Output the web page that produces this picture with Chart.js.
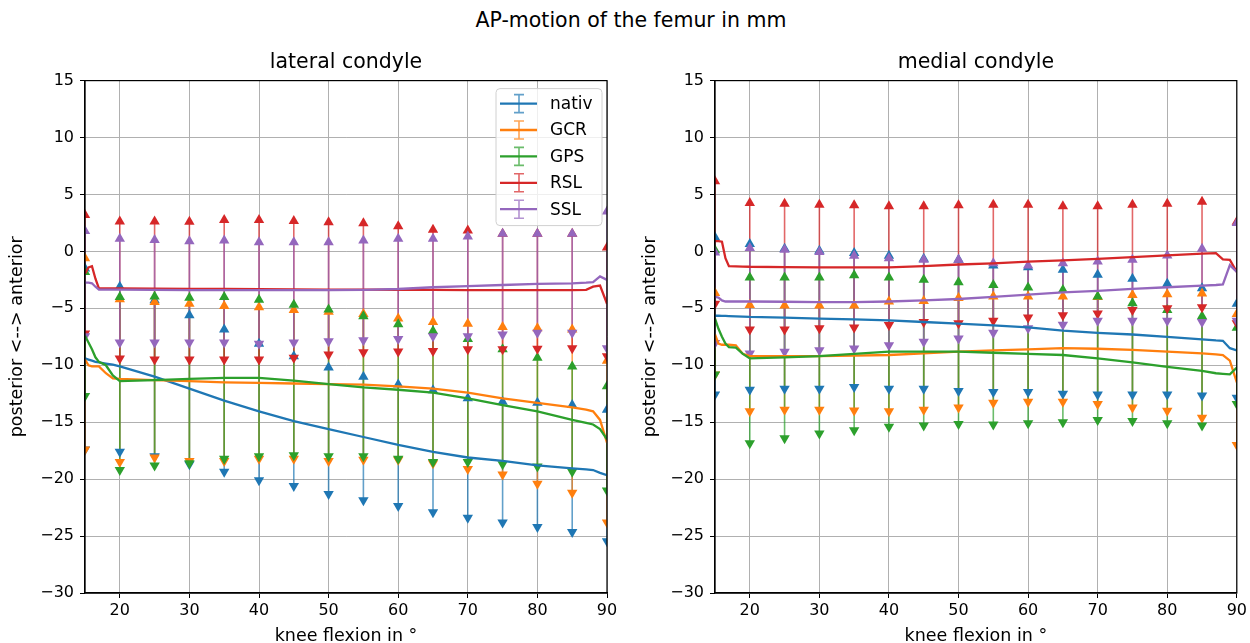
<!DOCTYPE html>
<html>
<head>
<meta charset="utf-8">
<script src="https://cdn.jsdelivr.net/npm/chart.js@4.4.0/dist/chart.umd.min.js"></script>
<style>
html, body { margin: 0; padding: 0; background: #fff; overflow: hidden; }
#wrap { position: relative; width: 1250px; height: 643px; overflow: hidden; }
#sup { position: absolute; left: 0; top: 8px; width: 1262px; text-align: center; font: 20.5px "DejaVu Sans"; color: #000; }
canvas { position: absolute; top: 0; }
</style>
</head>
<body>
<div id="wrap">
<div id="sup">AP-motion of the femur in mm</div>
<canvas id="lat" width="625" height="660" style="left:0px"></canvas>
<canvas id="med" width="620" height="660" style="left:630px"></canvas>
</div>
<script>
// knee flexion angles where the error bars sit
const flexion = [15, 20, 25, 30, 35, 40, 45, 50, 55, 60, 65, 70, 75, 80, 85, 90];
// x positions of the mean curves
const knots = [15, 15.5, 16, 16.5, 17, 18, 19, 20, 25, 30, 35, 40, 45, 50, 55, 60, 65, 70, 75, 80, 85, 87, 88, 89, 90];
const xTickValues = [20, 30, 40, 50, 60, 70, 80, 90];
const yTickValues = [-30, -25, -20, -15, -10, -5, 0, 5, 10, 15];
const seriesNames = ['nativ', 'GCR', 'GPS', 'RSL', 'SSL'];
const seriesColors = ['#1f77b4', '#ff7f0e', '#2ca02c', '#d62728', '#9467bd'];

// lateral condyle - mean curves
const latNativMean = [-9.4, -9.5, -9.6, -9.7, -9.75, -9.85, -9.95, -10.1, -11.0, -12.05, -13.1, -14.05, -14.9, -15.6, -16.3, -17.0, -17.6, -18.1, -18.4, -18.8, -19.05, -19.15, -19.2, -19.45, -19.65];
const latGcrMean = [-9.5, -10.0, -10.1, -10.1, -10.1, -10.7, -11.15, -11.2, -11.3, -11.4, -11.5, -11.55, -11.6, -11.65, -11.7, -11.85, -12.05, -12.4, -12.9, -13.3, -13.7, -13.9, -14.05, -14.8, -16.8];
const latGpsMean = [-7.4, -8.0, -8.6, -9.3, -9.7, -10.0, -10.9, -11.4, -11.3, -11.2, -11.1, -11.1, -11.35, -11.65, -11.95, -12.15, -12.4, -12.9, -13.5, -14.05, -14.8, -15.05, -15.2, -15.6, -16.5];
const latRslMean = [-1.95, -1.4, -1.3, -2.4, -3.25, -3.25, -3.25, -3.25, -3.27, -3.3, -3.3, -3.32, -3.33, -3.35, -3.35, -3.37, -3.38, -3.4, -3.4, -3.4, -3.4, -3.38, -3.1, -3.0, -4.6];
const latSslMean = [-2.75, -2.75, -2.8, -3.1, -3.35, -3.35, -3.35, -3.35, -3.38, -3.4, -3.4, -3.4, -3.4, -3.4, -3.38, -3.3, -3.15, -3.05, -2.95, -2.85, -2.8, -2.75, -2.7, -2.2, -2.5];

// lateral condyle - error bar ends
const latNativHi = [-1.5, -3.1, -4.3, -5.6, -6.85, -8.1, -9.2, -10.2, -11.0, -11.7, -12.2, -12.9, -13.2, -13.3, -13.5, -13.9];
const latNativLo = [-17.4, -17.6, -18.0, -18.7, -19.35, -20.1, -20.6, -21.3, -21.85, -22.35, -22.9, -23.4, -23.8, -24.2, -24.65, -25.45];
const latGcrHi = [-0.6, -4.2, -4.45, -4.6, -4.8, -4.9, -5.15, -5.3, -5.5, -5.9, -6.2, -6.35, -6.65, -6.76, -6.85, -9.6];
const latGcrLo = [-17.4, -18.5, -18.1, -18.4, -18.4, -18.2, -18.2, -18.4, -18.3, -18.3, -18.6, -19.1, -19.6, -20.4, -21.2, -23.8];
const latGpsHi = [-1.8, -4.0, -3.95, -4.07, -4.0, -4.24, -4.68, -5.1, -5.7, -6.4, -7.0, -7.7, -8.6, -9.35, -10.1, -11.85];
const latGpsLo = [-12.7, -19.2, -18.8, -18.6, -18.2, -18.0, -17.9, -18.0, -18.0, -18.2, -18.5, -18.5, -18.7, -18.9, -19.35, -21.0];
const latRslHi = [3.2, 2.63, 2.63, 2.6, 2.75, 2.75, 2.66, 2.57, 2.48, 2.2, 1.9, 1.84, 1.55, 1.55, 1.55, 0.35];
const latRslLo = [-7.2, -9.4, -9.5, -9.5, -9.5, -9.5, -9.35, -9.06, -8.85, -8.8, -8.75, -8.6, -8.6, -8.55, -8.5, -9.2];
const latSslHi = [1.8, 1.1, 1.0, 0.9, 0.95, 0.8, 0.8, 0.8, 0.95, 1.1, 1.1, 1.3, 1.55, 1.55, 1.55, 3.5];
const latSslLo = [-7.45, -8.0, -8.0, -8.0, -8.0, -8.1, -8.0, -7.9, -7.8, -7.7, -7.45, -7.45, -7.3, -7.15, -7.15, -8.5];

// medial condyle - mean curves
const medNativMean = [-5.65, -5.65, -5.66, -5.67, -5.68, -5.7, -5.72, -5.75, -5.82, -5.9, -5.97, -6.05, -6.2, -6.35, -6.5, -6.68, -6.95, -7.15, -7.3, -7.5, -7.72, -7.82, -7.85, -8.5, -8.7];
const medGcrMean = [-7.3, -8.1, -8.2, -8.2, -8.2, -8.25, -9.0, -9.2, -9.2, -9.2, -9.15, -9.1, -8.95, -8.8, -8.7, -8.6, -8.5, -8.55, -8.65, -8.8, -8.95, -9.05, -9.1, -9.6, -11.5];
const medGpsMean = [-5.9, -6.8, -7.5, -8.1, -8.4, -8.45, -9.0, -9.4, -9.3, -9.2, -9.0, -8.8, -8.8, -8.8, -8.9, -9.0, -9.1, -9.4, -9.75, -10.15, -10.5, -10.7, -10.75, -10.8, -10.2];
const medRslMean = [0.9, 0.9, 0.85, -0.6, -1.3, -1.32, -1.33, -1.35, -1.38, -1.4, -1.41, -1.41, -1.3, -1.15, -1.05, -0.9, -0.78, -0.65, -0.5, -0.35, -0.2, -0.15, -0.7, -0.75, -1.8];
const medSslMean = [-4.0, -4.05, -4.3, -4.4, -4.4, -4.4, -4.4, -4.4, -4.42, -4.45, -4.45, -4.4, -4.3, -4.18, -4.0, -3.8, -3.6, -3.47, -3.3, -3.15, -3.0, -2.95, -2.9, -1.2, -1.8];

// medial condyle - error bar ends
const medNativHi = [1.25, 0.65, 0.24, 0.06, -0.15, -0.38, -0.65, -0.74, -1.24, -1.4, -1.62, -2.06, -2.4, -2.85, -3.24, -4.6];
const medNativLo = [-12.56, -12.15, -12.06, -12.06, -11.9, -12.06, -12.06, -12.26, -12.35, -12.35, -12.5, -12.56, -12.56, -12.56, -12.65, -12.85];
const medGcrHi = [-3.65, -4.7, -4.76, -4.76, -4.76, -4.4, -4.35, -4.1, -3.97, -3.97, -3.97, -4.0, -3.82, -3.76, -3.7, -5.5];
const medGcrLo = [-10.8, -14.03, -13.9, -13.9, -13.97, -14.03, -13.9, -13.7, -13.3, -13.2, -13.2, -13.4, -13.7, -14.0, -14.6, -17.0];
const medGpsHi = [0.1, -2.3, -2.3, -2.3, -2.1, -2.3, -2.5, -2.7, -2.94, -3.18, -3.38, -3.97, -4.56, -5.15, -5.7, -6.7];
const medGpsLo = [-10.8, -16.85, -16.4, -16.0, -15.7, -15.4, -15.3, -15.15, -15.2, -15.1, -15.0, -14.8, -14.9, -15.1, -15.3, -13.4];
const medRslHi = [6.15, 4.26, 4.18, 4.1, 4.06, 3.97, 3.97, 4.06, 4.1, 4.1, 3.97, 3.97, 4.1, 4.18, 4.35, 2.6];
const medRslLo = [-4.6, -6.85, -6.85, -6.76, -6.68, -6.47, -6.2, -6.3, -6.1, -5.8, -5.6, -5.45, -5.15, -5.0, -4.9, -6.3];
const medSslHi = [-0.1, 0.3, 0.15, -0.06, -0.38, -0.6, -0.74, -0.74, -1.03, -1.24, -1.03, -0.88, -0.74, -0.35, 0.24, 2.5];
const medSslLo = [-8.05, -8.97, -8.82, -8.68, -8.53, -8.24, -7.94, -7.65, -7.15, -6.75, -6.45, -6.1, -6.1, -6.1, -6.2, -6.1];

Chart.defaults.font.family = '"DejaVu Sans", sans-serif';
Chart.defaults.color = '#000';

function fade(hex, a) {
  const n = parseInt(hex.slice(1), 16);
  return 'rgba(' + (n >> 16) + ',' + ((n >> 8) & 255) + ',' + (n & 255) + ',' + a + ')';
}

function buildDatasets(means, highs, lows) {
  const sets = [];
  seriesNames.forEach((name, i) => {
    const c = seriesColors[i];
    const bars = [];
    flexion.forEach((x, j) => {
      bars.push({x: x, y: highs[i][j]}, {x: x, y: lows[i][j]}, {x: x, y: null});
    });
    // vertical error bar
    sets.push({data: bars, borderColor: fade(c, 0.7), borderWidth: 1.6, pointRadius: 0, spanGaps: false, order: 300 - i});
    // caps: up / down triangles
    sets.push({data: flexion.map((x, j) => ({x: x, y: highs[i][j]})), showLine: false, pointStyle: 'triangle',
      pointRadius: 6, pointBackgroundColor: c, pointBorderColor: c, pointBorderWidth: 0, order: 200 - i});
    sets.push({data: flexion.map((x, j) => ({x: x, y: lows[i][j]})), showLine: false, pointStyle: 'triangle',
      pointRotation: 180, pointRadius: 6, pointBackgroundColor: c, pointBorderColor: c, pointBorderWidth: 0, order: 200 - i});
    // mean curve
    sets.push({label: name, data: knots.map((x, j) => ({x: x, y: means[i][j]})), borderColor: c, borderWidth: 2.3,
      pointRadius: 0, tension: 0, order: 100 - i});
  });
  return sets;
}

const framePlugin = {
  id: 'frame',
  afterDatasetsDraw(chart) {
    const ctx = chart.ctx, a = chart.chartArea;
    ctx.save();
    ctx.strokeStyle = '#000';
    ctx.lineWidth = 1.2;
    ctx.strokeRect(a.left, a.top, a.right - a.left, a.bottom - a.top);
    ctx.restore();
  }
};

const legendPlugin = {
  id: 'ebLegend',
  afterDraw(chart, args, opts) {
    if (!opts.show) return;
    const ctx = chart.ctx, a = chart.chartArea;
    const x0 = a.right - 111, y0 = a.top + 8, w = 106, h = 137;
    ctx.save();
    ctx.beginPath();
    ctx.roundRect(x0, y0, w, h, 4);
    ctx.fillStyle = 'rgba(255,255,255,0.8)';
    ctx.fill();
    ctx.strokeStyle = '#d0d0d0';
    ctx.lineWidth = 1;
    ctx.stroke();
    ctx.font = '17px "DejaVu Sans"';
    ctx.textBaseline = 'middle';
    seriesNames.forEach((name, i) => {
      const c = seriesColors[i];
      const cy = y0 + 15 + i * 26.4;
      const cx = x0 + 23;
      ctx.strokeStyle = fade(c, 0.7);
      ctx.lineWidth = 1.6;
      ctx.beginPath();
      ctx.moveTo(cx, cy - 9); ctx.lineTo(cx, cy + 9);
      ctx.moveTo(cx - 5, cy - 9); ctx.lineTo(cx + 5, cy - 9);
      ctx.moveTo(cx - 5, cy + 9); ctx.lineTo(cx + 5, cy + 9);
      ctx.stroke();
      ctx.strokeStyle = c;
      ctx.lineWidth = 2.3;
      ctx.beginPath();
      ctx.moveTo(x0 + 4, cy); ctx.lineTo(x0 + 41, cy);
      ctx.stroke();
      ctx.fillStyle = '#000';
      ctx.fillText(name, x0 + 54, cy + 1);
    });
    ctx.restore();
  }
};

function makePanel(id, title, datasets, showLegend, padRight, yTitlePad) {
  return new Chart(document.getElementById(id), {
    type: 'line',
    data: {datasets: datasets},
    plugins: [framePlugin, legendPlugin],
    options: {
      responsive: false,
      animation: false,
      events: [],
      devicePixelRatio: 1,
      layout: {padding: {top: 50, right: padRight, bottom: 0, left: 0}},
      plugins: {
        legend: {display: false},
        tooltip: {enabled: false},
        title: {display: true, text: title, fullSize: false, color: '#000',
          font: {size: 20.5, weight: 'normal'}, padding: {top: 0, bottom: 6}},
        ebLegend: {show: showLegend}
      },
      scales: {
        x: {
          type: 'linear', min: 15, max: 90,
          afterBuildTicks: s => { s.ticks = xTickValues.map(v => ({value: v})); },
          afterFit: s => { s.height = 67; },
          ticks: {font: {size: 16}, color: '#000', padding: 3, maxRotation: 0},
          grid: {color: '#b0b0b0', lineWidth: 1, tickColor: '#000', tickLength: 5},
          border: {display: true, color: '#000', width: 1.2},
          title: {display: true, text: 'knee flexion in °', color: '#000', font: {size: 17.5}, padding: {top: 0, bottom: 13}}
        },
        y: {
          type: 'linear', min: -30, max: 15,
          afterBuildTicks: s => { s.ticks = yTickValues.map(v => ({value: v})); },
          afterFit: s => { s.width = 85; },
          ticks: {font: {size: 16}, color: '#000', padding: 6,
            callback: v => String(v).replace('-', '\u2212')},
          grid: {color: '#b0b0b0', lineWidth: 1, tickColor: '#000', tickLength: 5},
          border: {display: true, color: '#000', width: 1.2},
          title: {display: true, text: 'posterior <--> anterior', color: '#000', font: {size: 17.5}, padding: {top: yTitlePad, bottom: 0}}
        }
      }
    }
  });
}

makePanel('lat', 'lateral condyle',
  buildDatasets(
    [latNativMean, latGcrMean, latGpsMean, latRslMean, latSslMean],
    [latNativHi, latGcrHi, latGpsHi, latRslHi, latSslHi],
    [latNativLo, latGcrLo, latGpsLo, latRslLo, latSslLo]),
  true, 18, 7);

makePanel('med', 'medial condyle',
  buildDatasets(
    [medNativMean, medGcrMean, medGpsMean, medRslMean, medSslMean],
    [medNativHi, medGcrHi, medGpsHi, medRslHi, medSslHi],
    [medNativLo, medGcrLo, medGpsLo, medRslLo, medSslLo]),
  false, 10, 10);
</script>
</body>
</html>
